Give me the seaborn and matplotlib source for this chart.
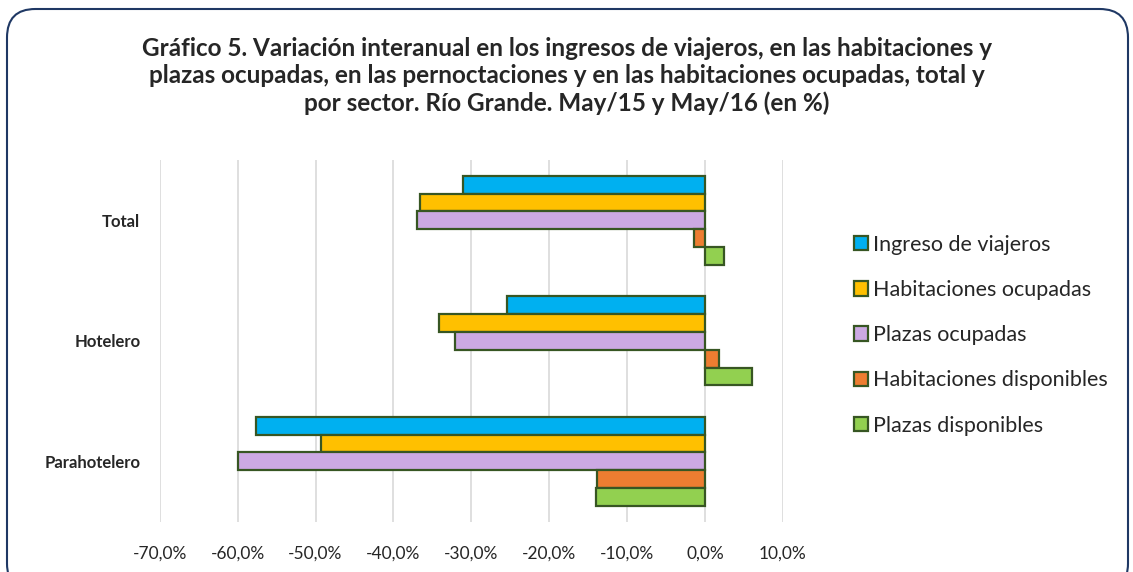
import pandas as pd
import matplotlib.pyplot as plt
import seaborn as sns
from matplotlib.patches import FancyBboxPatch
from matplotlib.ticker import FuncFormatter

# data (% interannual variation)
sectores = ["Total", "Hotelero", "Parahotelero"]
series = ["Ingreso de viajeros", "Habitaciones ocupadas", "Plazas ocupadas",
          "Habitaciones disponibles", "Plazas disponibles"]
ingreso_viajeros = [-31.1, -25.4, -57.7]
habitaciones_ocupadas = [-36.6, -34.2, -49.3]
plazas_ocupadas = [-37.0, -32.1, -59.9]
habitaciones_disponibles = [-1.4, 1.8, -13.9]
plazas_disponibles = [2.4, 6.0, -14.0]
colores = ["#00B0F0", "#FFC000", "#CCA9E3", "#ED7D31", "#92D050"]

valores = [ingreso_viajeros, habitaciones_ocupadas, plazas_ocupadas,
           habitaciones_disponibles, plazas_disponibles]
rows = []
for serie, vals in zip(series, valores):
    for sector, v in zip(sectores, vals):
        rows.append({"sector": sector, "serie": serie, "valor": v})
df = pd.DataFrame(rows)

sns.set_style("white")
plt.rcParams["font.family"] = ["Lato", "DejaVu Sans"]

fig = plt.figure(figsize=(11.33, 5.72), dpi=100)
ax = fig.add_axes([0.141, 0.088, 0.55, 0.632])

sns.barplot(data=df, y="sector", x="valor", hue="serie", order=sectores,
            hue_order=series, palette=colores, saturation=1, orient="h",
            width=0.74, edgecolor="#375623", linewidth=1.6, ax=ax)

ax.set_xlim(-70, 10)
ax.set_xticks(range(-70, 11, 10))
ax.xaxis.set_major_formatter(FuncFormatter(lambda v, p: f"{v:.1f}%".replace(".", ",")))
ax.grid(axis="x", color="#D9D9D9", linewidth=1.2)
ax.set_axisbelow(True)
for s in ax.spines.values():
    s.set_visible(False)
ax.set_xlabel("")
ax.set_ylabel("")
ax.tick_params(axis="x", length=0, labelsize=12.5, pad=17)
ax.tick_params(axis="y", length=0, labelsize=12, pad=14)
for t in ax.get_yticklabels():
    t.set_fontweight("bold")

handles, labels = ax.get_legend_handles_labels()
ax.get_legend().remove()
fig.legend(handles, labels, loc="center left", bbox_to_anchor=(0.737, 0.414),
           frameon=False, fontsize=15.5, handlelength=0.65, handleheight=0.65,
           handletextpad=0.2, labelspacing=1.17)

fig.text(0.5, 0.867,
         "Gráfico 5. Variación interanual en los ingresos de viajeros, en las habitaciones y\n"
         "plazas ocupadas, en las pernoctaciones y en las habitaciones ocupadas, total y\n"
         "por sector. Río Grande. May/15 y May/16 (en %)",
         ha="center", va="center", fontsize=17.5, fontweight="bold", linespacing=1.2)

border = FancyBboxPatch((7 / 1133, -20 / 572), 1121 / 1133, 583 / 572,
                        boxstyle="round,pad=0,rounding_size=0.025",
                        transform=fig.transFigure, facecolor="none",
                        edgecolor="#1F3864", linewidth=1.5, mutation_aspect=2.0)
fig.patches.append(border)

fig.savefig("out.png", dpi=100)
